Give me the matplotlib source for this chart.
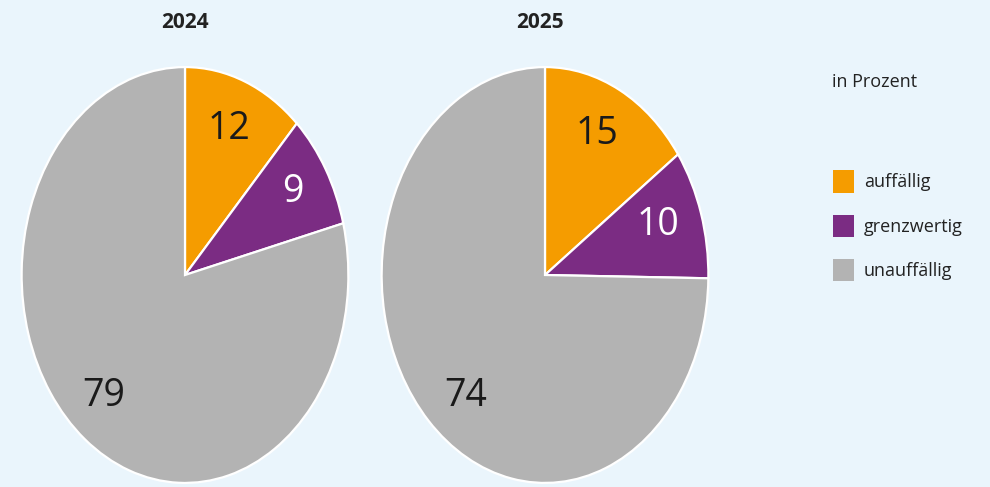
import matplotlib
matplotlib.use("Agg")
import matplotlib.pyplot as plt

years = ["2024", "2025"]
categories = ["auffällig", "grenzwertig", "unauffällig"]
values_2024 = [12, 9, 79]
values_2025 = [15, 10, 74]
colors = ["#F59C00", "#7B2C83", "#B3B3B3"]
label_colors = ["#1a1a1a", "white", "#1a1a1a"]

plt.rcParams['font.family'] = ['Open Sans', 'DejaVu Sans']
bg = "#EAF5FC"

fig = plt.figure(figsize=(9.9, 4.87), dpi=100)
fig.patch.set_facecolor(bg)

W, H = 990, 487
def px_axes(left, top, right, bottom):
    return fig.add_axes([left / W, 1 - bottom / H, (right - left) / W, (bottom - top) / H])

ax1 = px_axes(20, 65, 350, 485)
ax2 = px_axes(380, 65, 710, 485)

label_pos = {
    "2024": [(0.27, 0.70), (0.66, 0.40), (-0.50, -0.58)],
    "2025": [(0.32, 0.68), (0.69, 0.24), (-0.485, -0.58)],
}

wedges_first = None
for ax, yr, vals in [(ax1, years[0], values_2024), (ax2, years[1], values_2025)]:
    wedges, _ = ax.pie(vals, colors=colors, startangle=90, counterclock=False,
                       wedgeprops=dict(edgecolor="white", linewidth=1.6))
    if wedges_first is None:
        wedges_first = wedges
    ax.set_aspect('auto')
    ax.set_xlim(-1.01, 1.01)
    ax.set_ylim(-1.01, 1.01)
    ax.set_facecolor(bg)
    ax.axis('off')
    for v, (x, y), c in zip(vals, label_pos[yr], label_colors):
        ax.text(x, y, str(v), ha="center", va="center", fontsize=27, color=c)

fig.text(185 / W, 1 - 22 / H, years[0], ha="center", va="center", fontsize=15,
         fontweight="bold", color="#222222")
fig.text(540 / W, 1 - 22 / H, years[1], ha="center", va="center", fontsize=15,
         fontweight="bold", color="#222222")

fig.text(832 / W, 1 - 82 / H, "in Prozent", ha="left", va="center", fontsize=13,
         color="#222222")

leg = fig.legend(wedges_first, categories, loc="upper left",
                 bbox_to_anchor=(826 / W, 1 - 163 / H), frameon=False,
                 fontsize=13, handlelength=1.15, handleheight=1.55,
                 labelspacing=1.2, handletextpad=0.55, borderaxespad=0)
for t in leg.get_texts():
    t.set_color("#222222")
for h in leg.legend_handles:
    h.set_edgecolor("none")

fig.savefig("out.png", dpi=100, facecolor=bg)
